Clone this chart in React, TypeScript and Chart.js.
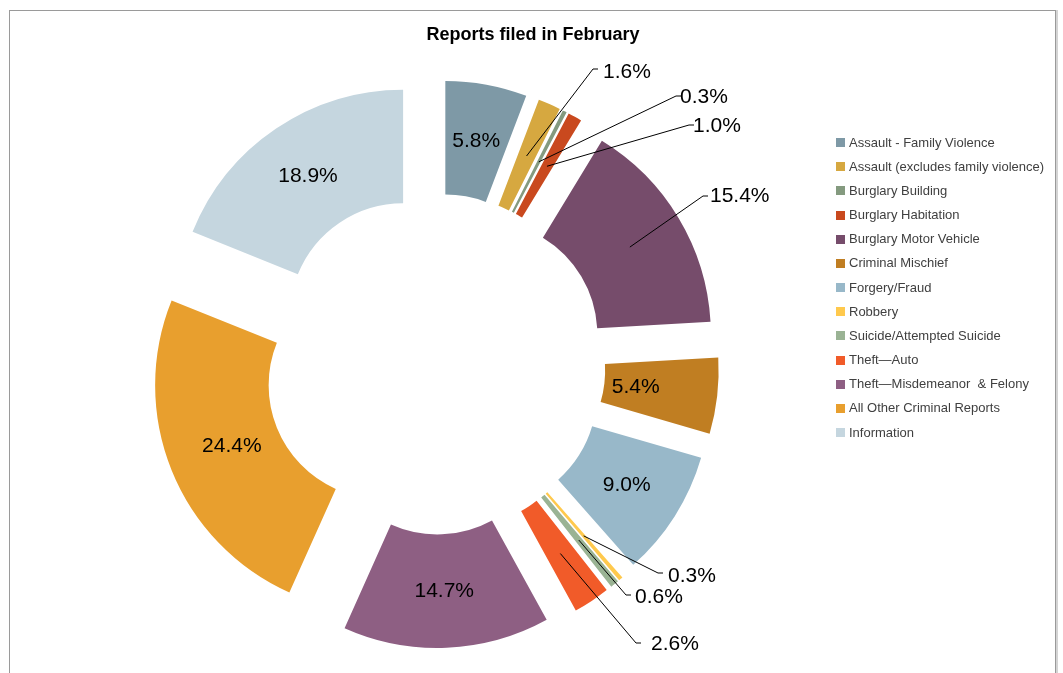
import React, { useEffect, useRef } from "react";
import { Chart, registerables } from "chart.js";

Chart.register(...registerables);

// ---------- data ----------
const chartTitle = "Reports filed in February";

const categories = [
  "Assault - Family Violence",
  "Assault (excludes family violence)",
  "Burglary Building",
  "Burglary Habitation",
  "Burglary Motor Vehicle",
  "Criminal Mischief",
  "Forgery/Fraud",
  "Robbery",
  "Suicide/Attempted Suicide",
  "Theft\u2014Auto",
  "Theft\u2014Misdemeanor  & Felony",
  "All Other Criminal Reports",
  "Information",
];

const percentages = [5.8, 1.6, 0.3, 1.0, 15.4, 5.4, 9.0, 0.3, 0.6, 2.6, 14.7, 24.4, 18.9];

const sliceColors = [
  "#7E99A6",
  "#D6A840",
  "#849A7F",
  "#C9491E",
  "#764C6B",
  "#C07E22",
  "#98B8C9",
  "#FFC94D",
  "#9AB394",
  "#F15B29",
  "#8E5F83",
  "#E89F2E",
  "#C5D6DF",
];

// ---------- layout / style (not data) ----------
const W = 1063;
const H = 673;
const OUTER_RADIUS = 227;
const EXPLODE = 57;
const FONT = "'Liberation Sans', Arial, sans-serif";

// inside labels: distance from exploded centre along the bisector (0 = outside label)
const insideLabelRadius = [170, 0, 0, 0, 0, 145, 170, 0, 0, 0, 170, 162, 170];
// outside labels: leader elbow and text anchor (left, middle) relative to the chart centre
const outsideElbow: ([number, number] | null)[] = [
  null, [158, -295], [241, -268], [254, -239], [268, -168], null, null,
  [223, 209], [191, 231], [201, 279], null, null, null,
];
const outsideText: ([number, number] | null)[] = [
  null, [168, -292], [245, -267], [258, -238], [275, -168], null, null,
  [233, 212], [200, 233], [216, 280], null, null, null,
];

const explodePlugin = {
  id: "explodeSlices",
  beforeDatasetDraw(chart: any, args: any) {
    const meta = chart.getDatasetMeta(args.index);
    const ctx = chart.ctx;
    meta.data.forEach((arc: any) => {
      const mid = (arc.startAngle + arc.endAngle) / 2;
      ctx.save();
      ctx.translate(Math.cos(mid) * EXPLODE, Math.sin(mid) * EXPLODE);
      arc.draw(ctx);
      ctx.restore();
    });
    return false;
  },
  afterDatasetsDraw(chart: any) {
    const ctx = chart.ctx;
    const meta = chart.getDatasetMeta(0);
    ctx.save();
    meta.data.forEach((arc: any, i: number) => {
      const mid = (arc.startAngle + arc.endAngle) / 2;
      const ex = arc.x + Math.cos(mid) * EXPLODE;
      const ey = arc.y + Math.sin(mid) * EXPLODE;
      const text = percentages[i].toFixed(1) + "%";
      ctx.font = `21px ${FONT}`;
      ctx.fillStyle = "#000000";
      ctx.textBaseline = "middle";
      const elbow = outsideElbow[i];
      const tpos = outsideText[i];
      if (elbow && tpos) {
        const midR = (arc.innerRadius + arc.outerRadius) / 2;
        const sx = ex + Math.cos(mid) * midR;
        const sy = ey + Math.sin(mid) * midR;
        const bx = arc.x + elbow[0];
        const by = arc.y + elbow[1];
        ctx.beginPath();
        ctx.strokeStyle = "#000000";
        ctx.lineWidth = 1;
        ctx.moveTo(sx, sy);
        ctx.lineTo(bx, by);
        ctx.lineTo(bx + 5, by);
        ctx.stroke();
        ctx.textAlign = "left";
        ctx.fillText(text, arc.x + tpos[0], arc.y + tpos[1]);
      } else {
        const r = insideLabelRadius[i];
        ctx.textAlign = "center";
        ctx.fillText(text, ex + Math.cos(mid) * r, ey + Math.sin(mid) * r);
      }
    });

    // title
    ctx.font = `bold 18px ${FONT}`;
    ctx.fillStyle = "#000000";
    ctx.textAlign = "center";
    ctx.textBaseline = "middle";
    ctx.fillText(chartTitle, 533, 35);

    // legend
    ctx.font = `13px ${FONT}`;
    ctx.textAlign = "left";
    categories.forEach((name, i) => {
      const cy = 142.5 + i * 24.17;
      ctx.fillStyle = sliceColors[i];
      ctx.fillRect(836, Math.round(cy - 4.5), 9, 9);
      ctx.fillStyle = "#404040";
      ctx.fillText(name, 849, cy + 0.5);
    });
    ctx.restore();
  },
};

export default function App() {
  const canvasRef = useRef<HTMLCanvasElement | null>(null);

  useEffect(() => {
    if (!canvasRef.current) return;
    const chart = new Chart(canvasRef.current, {
      type: "doughnut",
      data: {
        labels: categories,
        datasets: [
          {
            data: percentages,
            backgroundColor: sliceColors,
            borderWidth: 0,
          },
        ],
      },
      options: {
        responsive: false,
        animation: false,
        radius: OUTER_RADIUS,
        cutout: "50%",
        layout: { padding: { left: 0, right: 193, top: 55, bottom: 0 } },
        plugins: {
          legend: { display: false },
          title: { display: false },
          tooltip: { enabled: false },
        },
        events: [],
      } as any,
      plugins: [explodePlugin as any],
    });
    return () => chart.destroy();
  }, []);

  return (
    <div
      style={{
        position: "fixed",
        left: 0,
        top: 0,
        width: W,
        height: H,
        background: "#ffffff",
        overflow: "hidden",
      }}
    >
      <div
        style={{
          position: "absolute",
          left: 9,
          top: 10,
          width: 1045,
          height: 720,
          border: "1px solid #9a9a9a",
          boxShadow: "2px 0 0 #d4d4d4",
        }}
      />
      <canvas
        ref={canvasRef}
        width={W}
        height={H}
        style={{ position: "absolute", left: 0, top: 0, display: "block" }}
      />
    </div>
  );
}
